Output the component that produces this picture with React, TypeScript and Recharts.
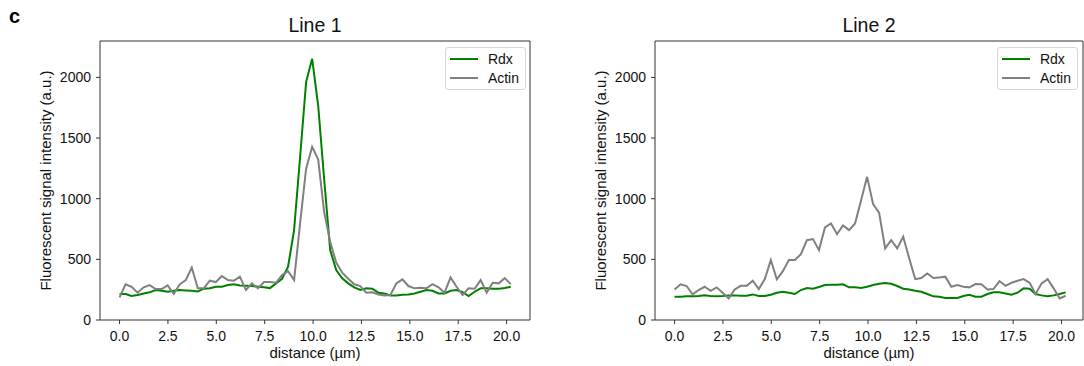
import { LineChart, Line, XAxis, YAxis, Legend, ReferenceLine } from 'recharts';

const FONT = '"Liberation Sans", Arial, Helvetica, sans-serif';

// sampling step along the line profile (µm)
const STEP = 0.311;

const line1Rdx = [
  214, 214, 198, 206, 219, 228, 247, 241, 233, 241,
  247, 244, 241, 236, 258, 261, 274, 274, 288, 294,
  285, 282, 280, 274, 269, 263, 302, 340, 439, 741,
  1344, 1961, 2154, 1770, 1160, 576, 411, 343, 302, 269,
  247, 261, 258, 225, 219, 203, 203, 208, 211, 219,
  233, 247, 241, 219, 219, 241, 247, 230, 198, 233,
  261, 261, 258, 258, 263, 274,
];
const line1Actin = [
  187, 294, 274, 225, 269, 288, 255, 255, 285, 214,
  294, 329, 433, 261, 261, 324, 313, 362, 329, 324,
  357, 247, 302, 261, 313, 313, 307, 370, 403, 329,
  796, 1248, 1427, 1325, 890, 645, 473, 390, 340, 294,
  280, 225, 228, 211, 203, 206, 302, 335, 280, 261,
  266, 261, 296, 269, 225, 351, 274, 206, 261, 258,
  329, 225, 307, 302, 346, 296,
];
const line2Rdx = [
  192, 192, 195, 195, 198, 203, 198, 195, 198, 203,
  203, 200, 200, 211, 198, 198, 208, 225, 233, 225,
  214, 247, 263, 258, 272, 288, 291, 291, 294, 269,
  269, 263, 274, 288, 299, 305, 299, 280, 258, 252,
  241, 233, 214, 195, 192, 181, 181, 181, 198, 208,
  192, 192, 214, 228, 228, 219, 208, 225, 261, 258,
  214, 203, 195, 203, 214, 228,
];
const line2Actin = [
  252, 294, 280, 211, 247, 274, 241, 269, 225, 178,
  252, 282, 282, 324, 255, 337, 494, 335, 403, 494,
  494, 543, 658, 667, 576, 763, 796, 708, 779, 741,
  796, 988, 1180, 955, 883, 590, 658, 590, 686, 507,
  337, 346, 384, 346, 351, 357, 274, 288, 274, 269,
  296, 294, 252, 255, 321, 282, 307, 324, 337, 307,
  214, 302, 337, 261, 178, 200,
];

const seriesOrder = ['Rdx', 'Actin'];
const distance = line1Rdx.map((_, i) => +(i * STEP).toFixed(3));
const xTicks = [0, 2.5, 5, 7.5, 10, 12.5, 15, 17.5, 20];
const yTicks = [0, 500, 1000, 1500, 2000];
const X_MIN = -1.01;
const Y_MAX = 2300;

const AXIS = '#333';
const TICK = { fill: '#111', fontSize: 14, fontFamily: FONT };
const LABEL = { fill: '#111', fontSize: 15, fontFamily: FONT };

function LegendBox({ payload }: { payload?: Array<{ value: string; color: string }> }) {
  if (!payload) return null;
  const items = [...payload].sort(
    (a, b) => seriesOrder.indexOf(a.value) - seriesOrder.indexOf(b.value)
  );
  return (
    <div
      style={{
        border: '1px solid #d6d6d6',
        borderRadius: 3,
        background: 'rgba(255,255,255,0.8)',
        padding: '2px 6px 2px 4px',
        fontFamily: FONT,
        fontSize: 14,
        lineHeight: '18.5px',
        color: '#111',
      }}
    >
      {items.map((p) => (
        <div key={p.value} style={{ display: 'flex', alignItems: 'center' }}>
          <svg width={28} height={4} style={{ marginRight: 10 }}>
            <line x1={0} y1={2} x2={28} y2={2} stroke={p.color} strokeWidth={2} />
          </svg>
          <span>{p.value}</span>
        </div>
      ))}
    </div>
  );
}

interface PanelProps {
  title: string;
  rdx: number[];
  actin: number[];
  left: number;
  width: number;
  marginRight: number;
  xMax: number;
  legendRight: number;
}

function Panel({ title, rdx, actin, left, width, marginRight, xMax, legendRight }: PanelProps) {
  const data = distance.map((d, i) => ({ d, Rdx: rdx[i], Actin: actin[i] }));
  const plotLeft = 100;
  const plotWidth = width - plotLeft - marginRight;
  return (
    <div style={{ position: 'absolute', left, top: 0, width, height: 366 }}>
      <div
        style={{
          position: 'absolute',
          top: 15,
          left: plotLeft,
          width: plotWidth,
          textAlign: 'center',
          fontFamily: FONT,
          fontSize: 19.5,
          lineHeight: '20px',
          color: '#111',
        }}
      >
        {title}
      </div>
      <LineChart
        width={width}
        height={366}
        data={data}
        margin={{ top: 41, right: marginRight, bottom: 0, left: 8 }}
      >
        <XAxis
          dataKey="d"
          type="number"
          domain={[X_MIN, xMax]}
          ticks={xTicks}
          allowDataOverflow
          tickFormatter={(v: number) => v.toFixed(1)}
          height={46}
          tick={TICK}
          tickSize={4}
          tickMargin={7}
          axisLine={{ stroke: AXIS }}
          tickLine={{ stroke: AXIS }}
          label={{
            value: 'distance (µm)',
            position: 'insideBottom',
            offset: 8,
            style: LABEL,
          }}
        />
        <YAxis
          type="number"
          domain={[0, Y_MAX]}
          ticks={yTicks}
          width={92}
          tick={TICK}
          tickSize={4}
          tickMargin={5}
          axisLine={{ stroke: AXIS }}
          tickLine={{ stroke: AXIS }}
          label={{
            value: 'Fluorescent signal intensity (a.u.)',
            angle: -90,
            position: 'insideLeft',
            offset: 38,
            style: { ...LABEL, textAnchor: 'middle' },
          }}
        />
        <ReferenceLine y={Y_MAX} stroke={AXIS} />
        <ReferenceLine x={xMax} stroke={AXIS} />
        <Legend
          layout="horizontal"
          verticalAlign="middle"
          align="center"
          content={LegendBox as any}
          wrapperStyle={{ top: 47, right: legendRight, left: 'auto', width: 'auto', height: 'auto' }}
        />
        <Line
          type="linear"
          dataKey="Rdx"
          stroke="#008000"
          strokeWidth={2}
          dot={false}
          isAnimationActive={false}
        />
        <Line
          type="linear"
          dataKey="Actin"
          stroke="#808080"
          strokeWidth={2}
          dot={false}
          isAnimationActive={false}
        />
      </LineChart>
    </div>
  );
}

export default function App() {
  return (
    <div
      style={{
        position: 'absolute',
        left: 0,
        top: 0,
        width: 1084,
        height: 366,
        overflow: 'hidden',
        background: '#fff',
      }}
    >
      <div
        style={{
          position: 'absolute',
          left: 9,
          top: 6,
          fontFamily: FONT,
          fontWeight: 'bold',
          fontSize: 20,
          lineHeight: '20px',
          color: '#000',
        }}
      >
        c
      </div>
      <Panel
        title="Line 1"
        rdx={line1Rdx}
        actin={line1Actin}
        left={0}
        width={560}
        marginRight={30}
        xMax={21.21}
        legendRight={34}
      />
      <Panel
        title="Line 2"
        rdx={line2Rdx}
        actin={line2Actin}
        left={555}
        width={530}
        marginRight={2}
        xMax={21.11}
        legendRight={7}
      />
    </div>
  );
}
